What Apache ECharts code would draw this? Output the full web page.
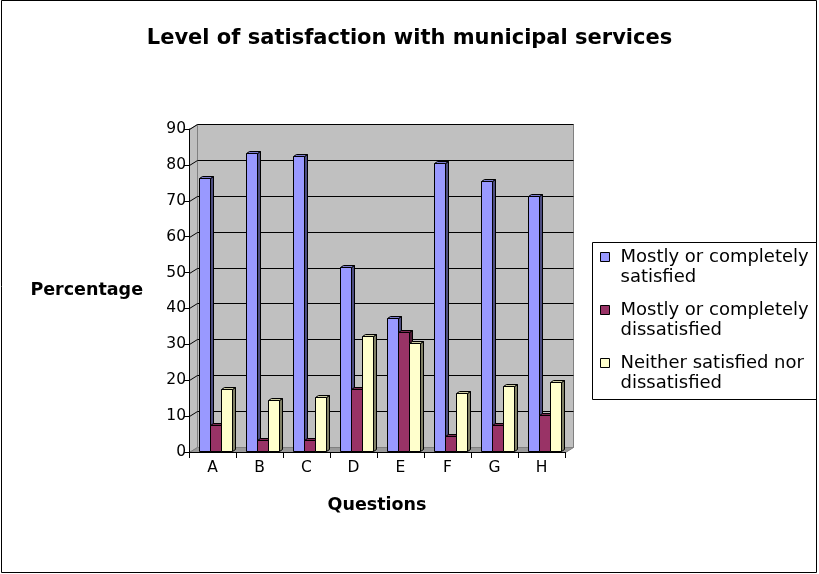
<!DOCTYPE html>
<html>
<head>
<meta charset="utf-8">
<title>Level of satisfaction with municipal services</title>
<script src="https://cdn.jsdelivr.net/npm/echarts@6/dist/echarts.min.js"></script>
<style>
  html, body { margin: 0; padding: 0; background: #fff; }
  #chart { width: 819px; height: 574px; }
</style>
</head>
<body>
<div id="chart"></div>
<script>
// Survey results: share of respondents per question (percent)
const categories = ['A', 'B', 'C', 'D', 'E', 'F', 'G', 'H'];
const satisfied = [76, 83, 82, 51, 37, 80, 75, 71];
const dissatisfied = [7, 3, 3, 17, 33, 4, 7, 10];
const neither = [17, 14, 15, 32, 30, 16, 18, 19];

const seriesNames = [
  'Mostly or completely satisfied',
  'Mostly or completely dissatisfied',
  'Neither satisfied nor dissatisfied'
];
const legendLabels = {
  'Mostly or completely satisfied': 'Mostly or completely\nsatisfied',
  'Mostly or completely dissatisfied': 'Mostly or completely\ndissatisfied',
  'Neither satisfied nor dissatisfied': 'Neither satisfied nor\ndissatisfied'
};

const yMin = 0;
const yMax = 90;
const yStep = 10;
const yTicks = [0, 10, 20, 30, 40, 50, 60, 70, 80, 90];

const FONT = 'DejaVu Sans';

// face colours for the pseudo-3D columns
const palettes = [
  { front: '#9999FF', top: '#7A7ACC', side: '#4D4D80' },
  { front: '#993366', top: '#7A2952', side: '#4D1A33' },
  { front: '#FFFFCC', top: '#CCCCA3', side: '#808066' }
];

// depth of the chart box (back wall offset) and of each column
const WALL_DX = 8, WALL_DY = -5;
const BAR_DX = 3, BAR_DY = -2;

function crisp(v) { return Math.round(v) + 0.5; }

// Back wall, side wall, floor and gridlines of the 3D box
function renderWalls(params, api) {
  const band = api.size([1, 0])[0];
  const x0 = api.coord([0, yMin])[0] - band / 2;
  const x1 = api.coord([categories.length - 1, yMin])[0] + band / 2;
  const y0 = api.coord([0, yMin])[1];
  const yT = api.coord([0, yMax])[1];
  const X0 = crisp(x0), X1 = crisp(x1), Y0 = crisp(y0), YT = crisp(yT);
  const children = [
    { type: 'polygon',
      shape: { points: [[X0, YT], [X0 + WALL_DX, YT + WALL_DY], [X0 + WALL_DX, Y0 + WALL_DY], [X0, Y0]] },
      style: { fill: '#C0C0C0', stroke: '#808080', lineWidth: 1 } },
    { type: 'rect',
      shape: { x: X0 + WALL_DX, y: YT + WALL_DY, width: X1 - X0, height: Y0 - YT },
      style: { fill: '#C0C0C0', stroke: '#808080', lineWidth: 1 } },
    { type: 'polygon',
      shape: { points: [[X0, Y0], [X1, Y0], [X1 + WALL_DX, Y0 + WALL_DY], [X0 + WALL_DX, Y0 + WALL_DY]] },
      style: { fill: '#9A9A9A', stroke: '#808080', lineWidth: 1 } }
  ];
  yTicks.forEach(function (t) {
    if (t === yMin) return;
    const y = crisp(api.coord([0, t])[1]);
    children.push({
      type: 'polyline',
      shape: { points: [[X0, y], [X0 + WALL_DX, y + WALL_DY], [X1 + WALL_DX, y + WALL_DY]] },
      style: { stroke: '#000', lineWidth: 1, fill: null }
    });
  });
  return { type: 'group', children: children };
}

// One pseudo-3D column: side face, top face, front face
function makeBarRenderer(slot, pal) {
  return function (params, api) {
    const i = api.value(0);
    const v = api.value(1);
    const top = api.coord([i, v]);
    const base = api.coord([i, yMin]);
    const band = api.size([1, 0])[0];
    const w = Math.round(band * 0.228);
    const x = crisp(top[0] - 1.5 * w + slot * w + 2.5);
    const yt = crisp(top[1] - 1.5);
    const yb = crisp(base[1] - 1.5);
    return {
      type: 'group',
      children: [
        { type: 'polygon',
          shape: { points: [[x + w, yt], [x + w + BAR_DX, yt + BAR_DY], [x + w + BAR_DX, yb + BAR_DY], [x + w, yb]] },
          style: { fill: pal.side, stroke: '#000', lineWidth: 1 } },
        { type: 'polygon',
          shape: { points: [[x, yt], [x + BAR_DX, yt + BAR_DY], [x + w + BAR_DX, yt + BAR_DY], [x + w, yt]] },
          style: { fill: pal.top, stroke: '#000', lineWidth: 1 } },
        { type: 'rect',
          shape: { x: x, y: yt, width: w, height: yb - yt },
          style: { fill: pal.front, stroke: '#000', lineWidth: 1 } }
      ]
    };
  };
}

function toPairs(values) {
  return values.map(function (v, i) { return [i, v]; });
}

const valueSets = [satisfied, dissatisfied, neither];

const barSeries = valueSets.map(function (values, s) {
  return {
    name: seriesNames[s],
    type: 'custom',
    z: 3,
    renderItem: makeBarRenderer(s, palettes[s]),
    encode: { x: 0, y: 1 },
    itemStyle: { color: palettes[s].front, borderColor: '#000', borderWidth: 1 },
    data: toPairs(values)
  };
});

const chart = echarts.init(document.getElementById('chart'), null, { renderer: 'canvas' });

chart.setOption({
  backgroundColor: '#fff',
  animation: false,
  title: {
    text: 'Level of satisfaction with municipal services',
    left: 'center',
    top: 28,
    padding: [0, 0, 0, 17],
    textStyle: { fontFamily: FONT, fontSize: 21, fontWeight: 'bold', color: '#000' }
  },
  legend: {
    data: seriesNames,
    orient: 'vertical',
    left: 600,
    top: 227,
    padding: 0,
    itemGap: -7,
    itemWidth: 9,
    itemHeight: 9,
    icon: 'rect',
    itemStyle: { borderColor: '#000', borderWidth: 1 },
    selectedMode: false,
    formatter: function (name) { return '\n' + legendLabels[name]; },
    textStyle: { fontFamily: FONT, fontSize: 18, lineHeight: 20, color: '#000', padding: [0, 0, 0, 6] }
  },
  grid: { left: 189, right: 254, top: 129, bottom: 122, containLabel: false },
  xAxis: {
    type: 'category',
    data: categories,
    z: 5,
    name: 'Questions',
    nameLocation: 'middle',
    nameGap: 44,
    nameTextStyle: { fontFamily: FONT, fontSize: 17.5, fontWeight: 'bold', color: '#000' },
    axisLine: { show: true, lineStyle: { color: '#000', width: 1 } },
    axisTick: { show: true, length: 6, interval: 0, lineStyle: { color: '#000' } },
    axisLabel: { fontFamily: FONT, fontSize: 15.5, color: '#000', margin: 8 },
    splitLine: { show: false }
  },
  yAxis: {
    type: 'value',
    min: yMin,
    max: yMax,
    interval: yStep,
    z: 5,
    name: 'Percentage',
    nameLocation: 'middle',
    nameRotate: 0,
    nameGap: 46,
    nameTextStyle: { fontFamily: FONT, fontSize: 17.5, fontWeight: 'bold', color: '#000' },
    axisLine: { show: true, lineStyle: { color: '#000', width: 1 } },
    axisTick: { show: true, length: 5, lineStyle: { color: '#000' } },
    axisLabel: { fontFamily: FONT, fontSize: 15.5, color: '#000', margin: 3 },
    splitLine: { show: false }
  },
  graphic: [
    { type: 'rect', z: -10, silent: true,
      shape: { x: 1.5, y: 0.5, width: 815, height: 572 },
      style: { fill: null, stroke: '#000', lineWidth: 1 } },
    { type: 'rect', z: -10, silent: true,
      shape: { x: 592.5, y: 242.5, width: 224, height: 157 },
      style: { fill: null, stroke: '#000', lineWidth: 1 } }
  ],
  series: [
    {
      name: 'box',
      type: 'custom',
      z: 1,
      silent: true,
      renderItem: renderWalls,
      encode: { x: 0, y: 1 },
      data: [[0, yMin]]
    }
  ].concat(barSeries)
});
</script>
</body>
</html>
